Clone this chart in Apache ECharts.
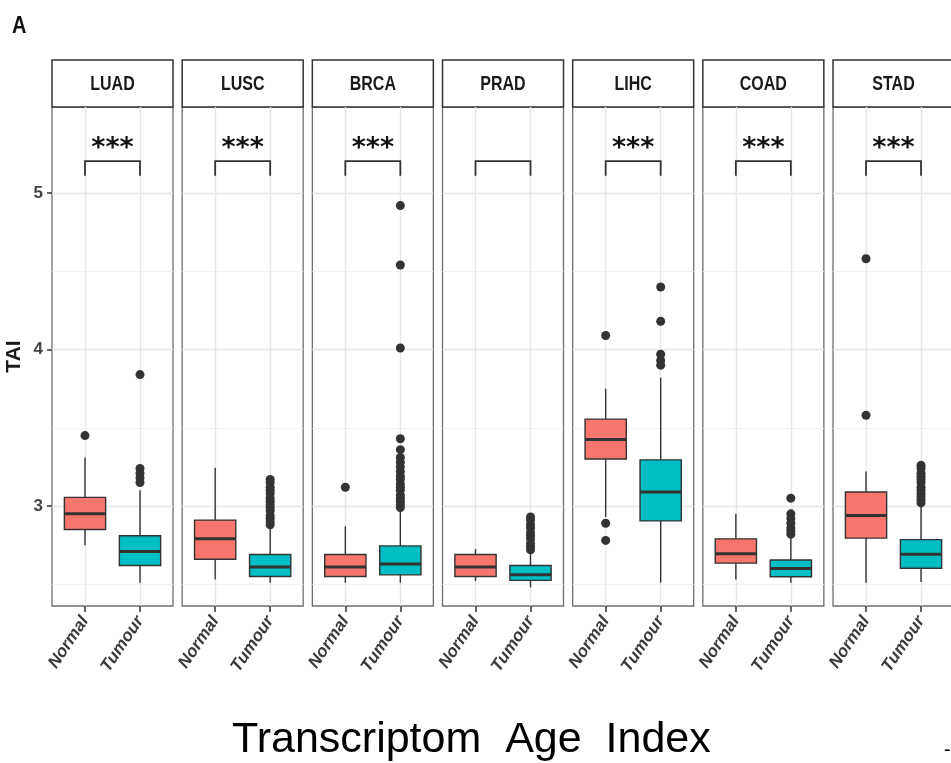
<!DOCTYPE html>
<html>
<head>
<meta charset="utf-8">
<script src="https://cdn.jsdelivr.net/npm/echarts@6/dist/echarts.min.js"></script>
<style>
  html, body { margin: 0; padding: 0; background: #ffffff; }
  #chart { width: 951px; height: 763px; }
</style>
</head>
<body>
<div id="chart"></div>
<script>
// Cancer types (one facet each) and the two sample groups
const cancerTypes = ['LUAD', 'LUSC', 'BRCA', 'PRAD', 'LIHC', 'COAD', 'STAD'];
const groups = ['Normal', 'Tumour'];

// Box statistics per cancer type: [lower whisker, Q1, median, Q3, upper whisker]
const normalStats = [
  [2.75, 2.85, 2.95, 3.055, 3.31],
  [2.53, 2.66, 2.79, 2.91, 3.245],
  [2.51, 2.55, 2.61, 2.69, 2.87],
  [2.52, 2.55, 2.61, 2.69, 2.725],
  [2.93, 3.30, 3.425, 3.555, 3.75],
  [2.53, 2.635, 2.695, 2.79, 2.95],
  [2.51, 2.795, 2.94, 3.09, 3.22]
];
const tumourStats = [
  [2.51, 2.62, 2.71, 2.81, 3.10],
  [2.51, 2.55, 2.61, 2.69, 2.86],
  [2.51, 2.56, 2.63, 2.745, 2.97],
  [2.48, 2.525, 2.56, 2.62, 2.71],
  [2.51, 2.905, 3.09, 3.295, 3.82],
  [2.51, 2.548, 2.60, 2.655, 2.80],
  [2.515, 2.602, 2.692, 2.785, 3.00]
];

// Outlying samples per cancer type
const normalOutliers = [
  [3.45],
  [],
  [3.12],
  [],
  [4.09, 2.89, 2.78],
  [],
  [4.58, 3.58]
];
const tumourOutliers = [
  [3.84, 3.24, 3.21, 3.18, 3.15],
  [3.17, 3.15, 3.12, 3.10, 3.08, 3.05, 3.03, 3.01, 2.99, 2.97, 2.94, 2.92, 2.90, 2.88],
  [4.92, 4.54, 4.01, 3.43, 3.36, 3.31, 3.28, 3.25, 3.22, 3.19, 3.17, 3.14, 3.12, 3.10, 3.07, 3.05, 3.03, 3.01, 2.99],
  [2.93, 2.91, 2.88, 2.86, 2.83, 2.81, 2.79, 2.76, 2.74, 2.72],
  [4.40, 4.18, 3.97, 3.93, 3.90],
  [3.05, 2.95, 2.92, 2.89, 2.86, 2.84, 2.82],
  [3.26, 3.24, 3.21, 3.19, 3.17, 3.15, 3.12, 3.10, 3.08, 3.06, 3.04, 3.02]
];

// Significance of Normal vs Tumour per cancer type
const sigLabels = ['***', '***', '***', '', '***', '***', '***'];

// TAI axis
const yTicks = [3, 4, 5];
const yMinorLines = [2.5, 3.5, 4.5];
const yMin = 2.361, yMax = 5.55;
const bracket = { low: 5.11, high: 5.204, label: 5.28 };

// Facet layout (pixels)
const PANEL_LEFT0 = 52, PANEL_STEP = 130.17, PANEL_W = 121;
const PANEL_TOP = 107, PANEL_H = 499;
const STRIP_TOP = 60, STRIP_H = 47;
const groupColors = ['#F8766D', '#00BFC4'];
const inkColor = '#333333';

const grids = [], xAxes = [], yAxes = [], series = [], graphics = [];

cancerTypes.forEach(function (name, i) {
  const left = PANEL_LEFT0 + i * PANEL_STEP;
  grids.push({
    left: left, top: PANEL_TOP, width: PANEL_W, height: PANEL_H,
    show: true, backgroundColor: '#ffffff',
    borderColor: '#6e6e6e', borderWidth: 1.3,
    containLabel: false, outerBoundsMode: 'none'
  });

  xAxes.push({
    gridIndex: i, type: 'value', min: 0.4, max: 2.6,
    axisLine: { show: false },
    splitLine: { show: false },
    axisTick: { show: true, customValues: [1, 2], length: 6, lineStyle: { color: inkColor, width: 1.5 } },
    axisLabel: {
      show: true, customValues: [1, 2],
      formatter: function (v) { return groups[Math.round(v) - 1]; },
      rotate: 56, margin: 12,
      fontFamily: 'Liberation Sans', fontStyle: 'italic', fontWeight: 'bold',
      fontSize: 17, color: '#3a3a3a'
    }
  });

  const isFirst = i === 0;
  yAxes.push({
    gridIndex: i, type: 'value', min: yMin, max: yMax,
    axisLine: { show: false },
    splitLine: { show: false },
    axisTick: { show: isFirst, customValues: yTicks, length: 5, lineStyle: { color: inkColor, width: 1.5 } },
    axisLabel: {
      show: isFirst, customValues: yTicks, margin: 9,
      fontFamily: 'Liberation Sans', fontWeight: 'bold', fontSize: 17, color: '#444444'
    },
    name: isFirst ? 'TAI' : '',
    nameLocation: 'middle', nameRotate: 90, nameGap: 27,
    nameTextStyle: { fontFamily: 'Liberation Sans', fontWeight: 'bold', fontSize: 21, color: '#1a1a1a' }
  });

  // gridlines (drawn beneath the boxes) + outlier points
  const gridLines = [];
  yTicks.forEach(function (v) { gridLines.push({ yAxis: v, lineStyle: { color: '#e6e6e6', width: 1.4 } }); });
  yMinorLines.forEach(function (v) { gridLines.push({ yAxis: v, lineStyle: { color: '#f1f1f1', width: 0.9 } }); });
  [1, 2].forEach(function (v) { gridLines.push({ xAxis: v, lineStyle: { color: '#e6e6e6', width: 1.4 } }); });

  const points = normalOutliers[i].map(function (v) { return [1, v]; })
    .concat(tumourOutliers[i].map(function (v) { return [2, v]; }));

  series.push({
    type: 'scatter', xAxisIndex: i, yAxisIndex: i,
    data: points, symbol: 'circle', symbolSize: 9,
    itemStyle: { color: inkColor, opacity: 1 },
    z: 5, silent: true,
    markLine: {
      silent: true, z: 1, symbol: ['none', 'none'],
      label: { show: false }, emphasis: { disabled: true },
      lineStyle: { type: 'solid' },
      data: gridLines
    }
  });

  // boxes with whiskers and a thick median bar
  series.push({
    type: 'custom', xAxisIndex: i, yAxisIndex: i, z: 3, silent: true,
    data: [[1].concat(normalStats[i]), [2].concat(tumourStats[i])],
    encode: { x: 0, y: [1, 2, 3, 4, 5] },
    renderItem: function (params, api) {
      const x = api.value(0);
      const low = api.coord([x, api.value(1)]);
      const q1 = api.coord([x, api.value(2)]);
      const med = api.coord([x, api.value(3)]);
      const q3 = api.coord([x, api.value(4)]);
      const high = api.coord([x, api.value(5)]);
      const half = api.size([0.75, 0])[0] / 2;
      const cx = low[0];
      const line = { stroke: inkColor, lineWidth: 1.4 };
      return {
        type: 'group',
        children: [
          { type: 'line', shape: { x1: cx, y1: high[1], x2: cx, y2: q3[1] }, style: line },
          { type: 'line', shape: { x1: cx, y1: q1[1], x2: cx, y2: low[1] }, style: line },
          { type: 'rect', shape: { x: cx - half, y: q3[1], width: half * 2, height: q1[1] - q3[1] },
            style: { fill: groupColors[Math.round(x) - 1], stroke: inkColor, lineWidth: 1.4 } },
          { type: 'line', shape: { x1: cx - half, y1: med[1], x2: cx + half, y2: med[1] },
            style: { stroke: inkColor, lineWidth: 3 } }
        ]
      };
    }
  });

  // significance bracket between Normal and Tumour
  series.push({
    type: 'custom', xAxisIndex: i, yAxisIndex: i, z: 4, silent: true,
    data: [[1, 2, bracket.low, bracket.high, bracket.label]],
    encode: { x: [0, 1], y: [2, 3, 4] },
    renderItem: function (params, api) {
      const a = api.coord([api.value(0), api.value(2)]);
      const b = api.coord([api.value(0), api.value(3)]);
      const c = api.coord([api.value(1), api.value(3)]);
      const d = api.coord([api.value(1), api.value(2)]);
      const t = api.coord([(api.value(0) + api.value(1)) / 2, api.value(4)]);
      return {
        type: 'group',
        children: [
          { type: 'polyline', shape: { points: [a, b, c, d] },
            style: { stroke: inkColor, lineWidth: 1.8, fill: null } },
          { type: 'text', x: t[0], y: t[1],
            style: { text: sigLabels[i], font: 'bold 27px "DejaVu Sans"', fill: '#111111',
                     align: 'center', verticalAlign: 'middle' } }
        ]
      };
    }
  });

  // facet strip
  graphics.push({
    type: 'rect', shape: { x: left, y: STRIP_TOP, width: PANEL_W, height: STRIP_H },
    style: { fill: '#ffffff', stroke: inkColor, lineWidth: 1.5 }
  });
  graphics.push({
    type: 'text', x: left + PANEL_W / 2, y: STRIP_TOP + STRIP_H / 2 + 1, scaleY: 1.25,
    style: { text: name, font: 'bold 16px "Liberation Sans"', fill: '#1a1a1a',
             textAlign: 'center', textVerticalAlign: 'middle' }
  });
});

// panel tag and overall caption
graphics.push({
  type: 'text', x: 12, y: 26, scaleY: 1.2,
  style: { text: 'A', font: 'bold 20px "Liberation Sans"', fill: '#111111',
           textAlign: 'left', textVerticalAlign: 'middle' }
});
graphics.push({
  type: 'text', x: 232, y: 740,
  style: { text: 'Transcriptom  Age  Index', font: '43px "Liberation Sans"', fill: '#000000',
           textAlign: 'left', textVerticalAlign: 'middle' }
});
graphics.push({
  type: 'text', x: 944, y: 750,
  style: { text: '-', font: '20px "Liberation Sans"', fill: '#000000',
           textAlign: 'left', textVerticalAlign: 'middle' }
});

const chart = echarts.init(document.getElementById('chart'), null, { renderer: 'canvas' });
chart.setOption({
  animation: false,
  backgroundColor: '#ffffff',
  grid: grids,
  xAxis: xAxes,
  yAxis: yAxes,
  series: series,
  graphic: graphics
});
</script>
</body>
</html>
